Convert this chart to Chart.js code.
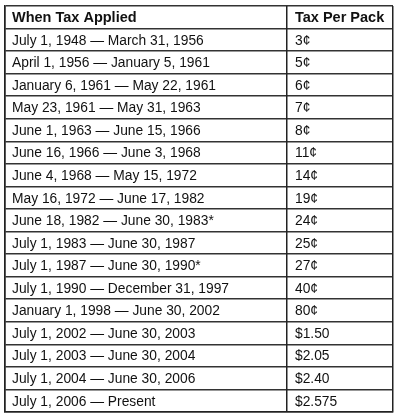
<!DOCTYPE html>
<html>
<head>
<meta charset="utf-8">
<script src="https://cdn.jsdelivr.net/npm/chart.js@4"></script>
<style>
  html, body { margin: 0; padding: 0; background: #fff; }
  #wrap { width: 400px; height: 420px; }
</style>
</head>
<body>
<div id="wrap"><canvas id="taxTable"></canvas></div>
<script>
// Tabela dos impostos por maço
const headers = ['When Tax Applied', 'Tax Per Pack'];
const periods = [
    'July 1, 1948 \u2014 March 31, 1956',
    'April 1, 1956 \u2014 January 5, 1961',
    'January 6, 1961 \u2014 May 22, 1961',
    'May 23, 1961 \u2014 May 31, 1963',
    'June 1, 1963 \u2014 June 15, 1966',
    'June 16, 1966 \u2014 June 3, 1968',
    'June 4, 1968 \u2014 May 15, 1972',
    'May 16, 1972 \u2014 June 17, 1982',
    'June 18, 1982 \u2014 June 30, 1983*',
    'July 1, 1983 \u2014 June 30, 1987',
    'July 1, 1987 \u2014 June 30, 1990*',
    'July 1, 1990 \u2014 December 31, 1997',
    'January 1, 1998 \u2014 June 30, 2002',
    'July 1, 2002 \u2014 June 30, 2003',
    'July 1, 2003 \u2014 June 30, 2004',
    'July 1, 2004 \u2014 June 30, 2006',
    'July 1, 2006 \u2014 Present'
];
const taxes = ['3\u00a2', '5\u00a2', '6\u00a2', '7\u00a2', '8\u00a2', '11\u00a2', '14\u00a2', '19\u00a2',
    '24\u00a2', '25\u00a2', '27\u00a2', '40\u00a2', '80\u00a2', '$1.50', '$2.05', '$2.40', '$2.575'];

const rowLabels = ['header'].concat(periods);

// Desenha o texto das células
const cellText = {
    id: 'cellText',
    afterDraw(chart) {
        const c = chart.ctx;
        const y = chart.scales.y;
        const x = chart.scales.x;
        const col1 = x.getPixelForValue(0) + 7;
        const col2 = x.getPixelForValue(282) + 8;
        c.save();
        c.fillStyle = '#111';
        c.textBaseline = 'middle';
        rowLabels.forEach((lab, i) => {
            const py = y.getPixelForValue(i) + 1;
            if (i === 0) {
                c.font = 'bold 14.5px "Liberation Sans", Arial, sans-serif';
                c.fillText(headers[0], col1, py);
                c.fillText(headers[1], col2, py);
            } else {
                c.font = '13.8px "Liberation Sans", Arial, sans-serif';
                c.fillText(periods[i - 1], col1, py);
                c.fillText(taxes[i - 1], col2, py);
            }
        });
        c.restore();
    }
};

const ctx = document.getElementById('taxTable').getContext('2d');
const myChart = new Chart(ctx, {
    type: 'bar',
    data: {
        labels: rowLabels,
        datasets: [{ data: rowLabels.map(() => null), indexAxis: 'y' }]
    },
    options: {
        indexAxis: 'y',
        responsive: true,
        maintainAspectRatio: false,
        animation: false,
        layout: { padding: { left: 5, top: 6, right: 7, bottom: 8 } },
        plugins: { legend: { display: false }, tooltip: { enabled: false } },
        scales: {
            y: {
                type: 'category',
                offset: true,
                grid: { offset: true, color: '#333', lineWidth: 1.5, drawTicks: false },
                border: { display: true, color: '#222', width: 1.5 },
                ticks: { display: false }
            },
            x: {
                type: 'linear',
                min: 0,
                max: 388,
                afterBuildTicks: axis => { axis.ticks = [{ value: 0 }, { value: 282 }, { value: 388 }]; },
                grid: { color: '#222', lineWidth: 1.5, drawTicks: false },
                border: { display: true, color: '#222', width: 1.5 },
                ticks: { display: false }
            }
        }
    },
    plugins: [cellText]
});
</script>
</body>
</html>
